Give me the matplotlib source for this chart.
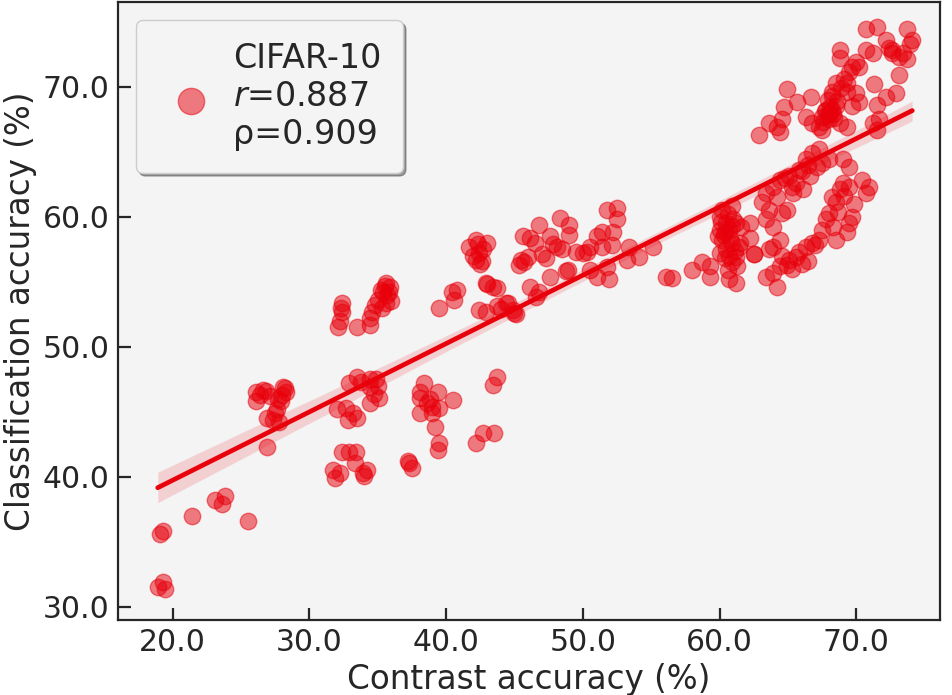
import numpy as np
import seaborn as sns
from matplotlib import pyplot as plt

# contrast accuracy (%) vs classification accuracy (%)
contrast_acc = [
    # lowest group
    18.9, 19.3, 19.4, 19.1, 19.3, 21.4, 23.1, 23.6, 23.8, 25.5,
    # ~27
    26.1, 26.6, 28.2, 28.3, 26.1, 27.1, 27.6, 26.9, 27.3, 27.8, 26.9, 28.0, 27.5, 26.4, 27.9,
    26.8, 27.7, 28.1,
    # ~33, lower
    32.0, 32.7, 33.2, 33.5, 32.8, 32.4, 32.9, 33.4, 31.7, 32.2, 34.2, 33.9, 33.3, 31.9, 34.0,
    33.5, 32.9, 34.4, 34.9, 34.4, 34.4, 35.1, 33.8, 35.0, 34.7,
    # ~34, upper
    32.4, 32.4, 32.1, 33.5, 34.4, 34.4, 34.6, 35.6, 35.9, 35.4, 35.6, 35.0, 36.0, 35.8, 35.3, 32.2,
    35.2, 35.7, 35.5, 34.8, 32.3,
    # ~39
    38.4, 38.1, 39.4, 38.1, 38.6, 38.1, 39.0, 39.5, 40.5, 39.2, 39.5, 39.4, 43.7, 43.4, 42.7,
    43.5, 42.2, 37.3, 37.5, 37.2, 38.8, 39.0,
    # 40-56
    39.5, 40.4, 40.6, 40.8, 42.9, 43.4, 43.7, 42.4, 42.9, 43.7, 44.4, 44.9, 45.1,
    42.2, 42.7, 42.2, 43.0, 41.7, 42.4, 42.5, 43.0, 44.5, 45.0,
    45.6, 46.1, 46.8, 47.6, 48.3, 49.0, 49.0, 45.5, 45.7, 47.0, 47.3, 48.1, 48.5, 49.5, 50.0,
    47.6, 46.1, 46.8, 46.6, 48.9, 50.5, 51.0, 51.8, 51.9,
    51.0, 51.4, 52.2, 50.5, 51.4, 52.1, 50.3, 51.8, 52.5, 52.5,
    53.4, 54.1, 55.1, 53.2, 56.1, 56.5, 46.5, 47.8, 45.3, 44.0,
    42.0, 42.6, 42.3, 46.0, 48.8,
    # ~61
    60.2, 60.9, 60.0, 60.5, 61.2, 60.0, 60.7, 61.6, 62.2, 62.2, 60.2, 60.9, 61.4, 60.5, 61.2,
    60.9, 60.6, 60.7, 61.2, 60.0, 59.3, 58.7, 58.0, 59.3, 62.5, 60.4, 61.0, 60.6, 59.9, 61.5,
    60.3, 60.8, 61.1, 60.4, 60.9, 61.3, 60.1, 60.7,
    # 63-68, along the line
    66.8, 67.3, 66.3, 65.8, 65.1, 64.4, 63.9, 63.4, 63.1, 63.6, 63.4, 63.9, 64.6, 64.9, 65.6,
    66.1, 65.4, 66.6, 67.1, 67.5, 68.0, 64.8, 65.3, 66.0, 66.5, 64.2,
    # 63-71, lower arm
    64.4, 63.9, 63.6, 62.5, 63.4, 63.9, 64.2, 64.4, 65.1, 65.6, 66.3, 66.8, 67.3, 67.5, 67.8,
    68.0, 68.5, 69.3, 69.5, 69.7, 68.8, 69.0, 69.5, 70.4, 70.9, 70.7, 68.2, 68.5, 69.0, 69.5,
    64.9, 65.8, 66.5, 68.7, 69.1, 65.3, 66.0, 64.6, 67.0, 68.3, 69.8,
    # top right
    70.7, 71.5, 73.7, 74.1, 72.2, 70.7, 71.2, 72.6, 73.1, 73.7, 68.8, 68.8, 69.7, 70.2, 69.5,
    69.3, 68.5, 68.2, 69.3, 70.0, 70.2, 69.7, 68.5, 67.8, 67.5, 66.8, 66.3, 66.7, 65.7, 64.9,
    64.7, 64.2, 63.6, 62.9, 64.6, 64.4, 73.1, 71.5, 72.2, 72.9, 71.2, 71.5, 71.7, 68.8, 69.3,
    67.3, 67.5, 68.2, 68.0, 68.0, 67.9, 68.3, 67.6, 68.6, 72.6, 73.9, 71.3,
    67.7, 68.1, 68.4, 67.9, 68.9, 69.1, 72.4, 73.4, 70.0, 68.2,
]
class_acc = [
    31.5, 31.9, 31.4, 35.6, 35.8, 37.0, 38.2, 37.9, 38.5, 36.6,
    46.5, 46.7, 46.8, 46.5, 45.8, 46.2, 45.2, 44.5, 44.4, 44.2, 42.3, 46.3, 44.9, 46.3, 45.8,
    46.6, 46.0, 46.9,
    45.2, 45.3, 44.9, 44.5, 44.4, 41.9, 41.9, 41.9, 40.5, 40.3, 40.5, 40.3, 41.1, 39.9, 40.1,
    47.7, 47.2, 47.5, 47.5, 46.9, 45.7, 46.1, 47.3, 47.0, 46.4,
    53.4, 52.7, 51.5, 51.5, 52.2, 51.7, 52.7, 54.9, 54.6, 54.2, 53.4, 53.6, 53.5, 54.2, 53.0, 52.0,
    54.4, 54.0, 54.7, 53.2, 53.0,
    47.2, 46.5, 46.5, 46.1, 45.7, 44.9, 44.9, 45.3, 45.9, 43.8, 42.6, 42.1, 47.7, 47.1, 43.4,
    43.4, 42.6, 41.1, 40.7, 41.2, 46.0, 45.4,
    53.0, 54.2, 53.6, 54.4, 54.9, 54.6, 54.5, 52.8, 52.7, 53.1, 53.4, 52.8, 52.5,
    58.2, 57.5, 56.7, 58.0, 57.7, 57.2, 56.4, 54.8, 53.4, 52.6,
    58.5, 58.4, 59.4, 58.5, 59.9, 59.4, 58.6, 56.7, 56.5, 57.1, 56.8, 57.7, 57.5, 57.3, 57.2,
    55.4, 54.6, 54.2, 53.8, 55.9, 55.9, 55.4, 56.1, 55.2,
    58.5, 58.8, 58.8, 57.7, 57.7, 57.8, 57.3, 60.5, 60.7, 59.8,
    57.7, 56.9, 57.7, 56.7, 55.4, 55.3, 58.0, 57.9, 56.3, 52.9,
    57.0, 56.6, 57.9, 56.9, 55.8,
    60.5, 60.8, 60.0, 59.5, 59.5, 59.0, 59.0, 59.2, 59.5, 58.4, 58.2, 58.0, 57.7, 57.5, 56.9,
    56.5, 55.9, 55.2, 54.9, 57.2, 56.2, 56.5, 55.9, 55.4, 57.1, 58.8, 59.8, 60.2, 58.5, 58.0,
    58.6, 58.3, 57.4, 56.8, 59.3, 56.2, 59.6, 57.0,
    64.9, 65.2, 64.4, 63.6, 63.1, 62.8, 62.3, 61.8, 61.1, 60.5, 59.8, 59.2, 60.3, 60.5, 62.6,
    62.1, 61.8, 63.1, 63.8, 64.1, 64.4, 63.0, 62.3, 63.5, 64.0, 61.5,
    58.2, 57.7, 57.5, 57.1, 55.4, 55.7, 54.6, 56.2, 56.7, 56.9, 57.7, 58.0, 58.2, 59.0, 59.8,
    60.3, 58.2, 58.8, 59.5, 60.0, 62.1, 62.6, 62.3, 62.8, 62.3, 61.8, 61.5, 61.1, 64.4, 63.8,
    56.3, 57.3, 56.6, 60.4, 61.6, 56.0, 56.4, 57.0, 57.8, 59.2, 61.0,
    74.4, 74.6, 74.4, 73.6, 73.6, 72.8, 72.6, 72.8, 72.3, 72.1, 72.8, 72.2, 71.5, 71.5, 71.1,
    70.3, 70.3, 69.6, 69.6, 69.5, 68.8, 68.5, 68.5, 68.2, 67.7, 67.2, 67.7, 69.2, 68.8, 69.8,
    68.4, 66.9, 67.2, 66.3, 67.5, 66.5, 70.9, 68.6, 69.2, 69.5, 67.2, 66.7, 67.5, 67.2, 66.9,
    66.9, 66.7, 68.2, 67.5, 68.0, 67.8, 67.9, 67.3, 68.9, 72.6, 73.3, 70.2,
    68.1, 68.4, 67.6, 69.0, 69.9, 70.6, 73.0, 72.6, 71.9, 69.3,
]
label = 'CIFAR-10\n$r$=0.887\nρ=0.909'
xticks = [20, 30, 40, 50, 60, 70]
yticks = [30, 40, 50, 60, 70]

red = '#e8000b'

sns.set_style('ticks')
plt.rcParams['font.family'] = ['DejaVu Sans']

fig = plt.figure(figsize=(9.52, 6.95), dpi=100)
ax = fig.add_axes([0.124, 0.108, 0.863, 0.889])
ax.set_facecolor('#f4f4f4')

ax.scatter(contrast_acc, class_acc, s=140, color=red, alpha=0.5,
           edgecolors=red, linewidths=1.0, label=label, zorder=2)
sns.regplot(x=np.array(contrast_acc), y=np.array(class_acc), ax=ax,
            scatter=False, color=red, seed=0, truncate=True,
            line_kws={'linewidth': 3.4, 'zorder': 3})

ax.set_xlim(16.0, 76.1)
ax.set_ylim(29.0, 76.5)
ax.set_xticks(xticks)
ax.set_yticks(yticks)
ax.set_xticklabels(['%.1f' % t for t in xticks])
ax.set_yticklabels(['%.1f' % t for t in yticks])
ax.tick_params(direction='in', length=9, width=1.6, labelsize=21.5,
               colors='#262626', pad=6)
for sp in ax.spines.values():
    sp.set_visible(True)
    sp.set_linewidth(1.6)
    sp.set_color('#262626')

ax.set_xlabel('Contrast accuracy (%)', fontsize=23.5, color='#262626', labelpad=4)
ax.set_ylabel('Classification accuracy (%)', fontsize=23.5, color='#262626', labelpad=4)

leg = ax.legend(loc='upper left', fontsize=24, markerscale=1.6, shadow=True,
                fancybox=True, framealpha=1, handletextpad=0.25,
                borderaxespad=0.55, borderpad=0.65)
leg.get_frame().set_facecolor('#f4f4f4')
leg.get_frame().set_edgecolor('#cccccc')

plt.savefig('out.png', dpi=100)
